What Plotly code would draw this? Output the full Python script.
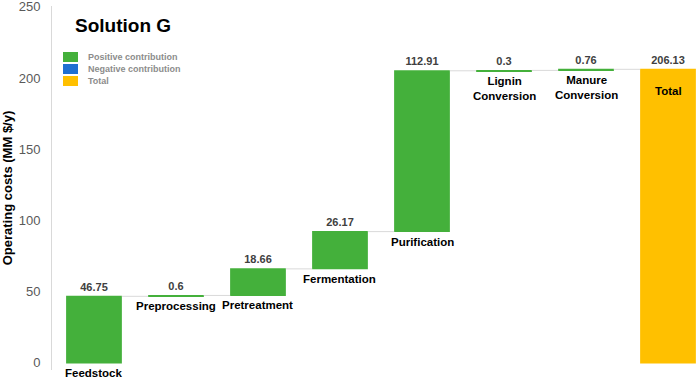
import plotly.graph_objects as go

categories = ["Feedstock", "Preprocessing", "Pretreatment", "Fermentation",
              "Purification", "Lignin Conversion", "Manure Conversion", "Total"]
values = [46.75, 0.6, 18.66, 26.17, 112.91, 0.3, 0.76, 206.13]
measures = ["relative"] * 7 + ["total"]
value_labels = ["46.75", "0.6", "18.66", "26.17", "112.91", "0.3", "0.76", "206.13"]
cat_labels = ["Feedstock", "Preprocessing", "Pretreatment", "Fermentation",
              "Purification", "Lignin<br>Conversion", "Manure<br>Conversion", "Total"]
legend_names = ["Positive contribution", "Negative contribution", "Total"]
y_ticks = [0, 50, 100, 150, 200, 250]

GREEN = "#44B03B"
BLUE = "#1F6FD1"
GOLD = "#FFC000"
FONT = "Liberation Sans, Arial, sans-serif"

fig = go.Figure()
fig.add_trace(go.Waterfall(
    x=categories, y=values, measure=measures,
    text=value_labels, texttemplate="<b>%{text}</b>", textposition="outside",
    textfont=dict(size=11, color="#404040", family=FONT),
    increasing=dict(marker=dict(color=GREEN)),
    decreasing=dict(marker=dict(color=BLUE)),
    totals=dict(marker=dict(color=GOLD)),
    connector=dict(line=dict(color="#D9D9D9", width=1)),
    width=0.68, showlegend=False, cliponaxis=False,
))

# category labels under the base of each bar
base = 0.0
annotations = []
for i, (c, v, lab) in enumerate(zip(categories, values, cat_labels)):
    if measures[i] == "total":
        annotations.append(dict(x=c, y=v, xref="x", yref="y", text=f"<b>{lab}</b>",
                                showarrow=False, yanchor="top", yshift=-14,
                                font=dict(size=11.5, color="black", family=FONT)))
    else:
        annotations.append(dict(x=c, y=base, xref="x", yref="y", text=f"<b>{lab}</b>",
                                showarrow=False, yanchor="top", yshift=-2,
                                font=dict(size=11.5, color="black", family=FONT)))
        base += v

# title
PW, PH, L, T = 647.0, 364.0, 52.0, 6.0
annotations.append(dict(x=(73 - L) / PW, y=1 - (25 - T) / PH, xref="paper", yref="paper",
                        text="<b>Solution G</b>",
                        showarrow=False, xanchor="left", yanchor="middle",
                        font=dict(size=19, color="black", family=FONT)))

# legend (drawn manually)
colors = [GREEN, BLUE, GOLD]
shapes = []
for k, (name, col) in enumerate(zip(legend_names, colors)):
    y0 = 52 + k * 12
    shapes.append(dict(type="rect", xref="paper", yref="paper",
                       x0=(63 - L) / PW, x1=(78 - L) / PW,
                       y0=1 - (y0 + 10 - T) / PH, y1=1 - (y0 - T) / PH,
                       fillcolor=col, line=dict(width=0)))
    annotations.append(dict(x=(86 - L) / PW, y=1 - (y0 + 5 - T) / PH, xref="paper", yref="paper",
                            text=f"<b>{name}</b>", showarrow=False, xanchor="left", yanchor="middle",
                            font=dict(size=9, color="#8C8C8C", family=FONT)))

fig.update_layout(
    width=699, height=380,
    margin=dict(l=52, r=0, t=6, b=10, autoexpand=False),
    plot_bgcolor="white", paper_bgcolor="white",
    font=dict(family=FONT),
    annotations=annotations, shapes=shapes,
    xaxis=dict(type="category", range=[-0.512, 7.378], showticklabels=False,
               showgrid=False, zeroline=False, showline=False, ticks="", automargin=False),
    yaxis=dict(range=[-5, 250.6], tickvals=y_ticks, ticktext=[str(t) for t in y_ticks],
               showgrid=False, zeroline=False, ticklabeloverflow="allow",
               showline=True, linecolor="#D9D9D9", linewidth=1, ticks="", automargin=False,
               tickfont=dict(size=13, color="#595959", family=FONT), ticklabelstandoff=8,
               title=dict(text="<b>Operating costs (MM $/y)</b>", standoff=6,
                          font=dict(size=13, color="black", family=FONT))),
    showlegend=False,
)

fig.write_html("out.html", config={"displayModeBar": False},
               post_script="document.body.style.margin='0';document.body.style.padding='0';document.body.style.overflow='hidden';")
